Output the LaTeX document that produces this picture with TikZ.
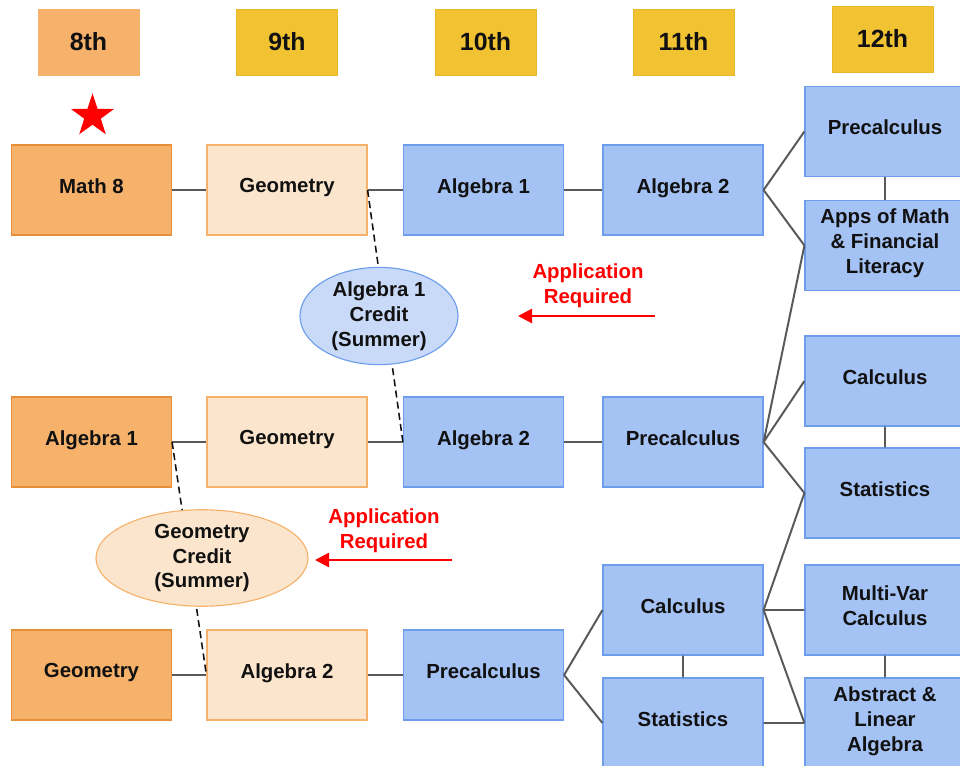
\documentclass[tikz,border=0pt]{standalone}
\usepackage{fontspec}
\setmainfont{Liberation Sans}
\usetikzlibrary{shapes.geometric,arrows.meta}
\definecolor{orangefill}{HTML}{F6B26B}
\definecolor{orangeline}{HTML}{E69138}
\definecolor{peachfill}{HTML}{FCE5CD}
\definecolor{peachline}{HTML}{F6B26B}
\definecolor{goldfill}{HTML}{F1C232}
\definecolor{goldline}{HTML}{E8B82A}
\definecolor{bluefill}{HTML}{A4C2F4}
\definecolor{blueline}{HTML}{6D9EEB}
\definecolor{paleblue}{HTML}{C9DAF8}
\definecolor{linegray}{HTML}{595959}
\definecolor{inkgray}{HTML}{111111}
\begin{document}
\begin{tikzpicture}[x=0.025cm,y=-0.025cm,
  every node/.style={font=\fontsize{14.5}{17.7}\selectfont\bfseries,text=inkgray,align=center,inner sep=0pt},
  grade/.style={draw=goldline,fill=goldfill,minimum width=2.525cm,minimum height=1.65cm,
    font=\fontsize{17.7}{20}\selectfont\bfseries},
  course/.style={draw=blueline,fill=bluefill,line width=0.8pt,minimum width=4cm,minimum height=2.25cm,text depth=6pt},
  prior/.style={course,draw=orangeline,fill=orangefill},
  early/.style={course,draw=peachline,fill=peachfill},
  credit/.style={ellipse,line width=0.8pt,draw=blueline,fill=paleblue},
  pathline/.style={draw=linegray,line width=1.4pt},
  dashline/.style={draw=inkgray,line width=1.1pt,dash pattern=on 5pt off 3pt},
  apply/.style={text=red},
  applyarrow/.style={draw=red,line width=1.8pt,-{Triangle[length=10pt,width=10pt]}}]
\clip (0,0) rectangle (960,766);
\fill[white] (0,0) rectangle (960,766);
% grade headers
\node[grade,draw=orangefill,fill=orangefill] (g8) at (88.5,42) {8th};
\node[grade] (g9) at (287,42) {9th};
\node[grade] (g10) at (485.5,42) {10th};
\node[grade] (g11) at (683.5,42) {11th};
\node[grade] (g12) at (882.5,39) {12th};
\node[star,star points=5,star point ratio=2.6,fill=red,minimum size=1.13cm] (mark8) at (92.5,116) {};
% first track
\node[prior] (math8) at (91.5,190) {Math 8};
\node[early] (geoA) at (287,190) {Geometry};
\node[course] (algOneA) at (483.5,190) {Algebra 1};
\node[course] (algTwoA) at (683,190) {Algebra 2};
\node[course] (precTwelve) at (885,131.5) {Precalculus};
\node[course] (apps) at (885,245.5) {Apps of Math\\\& Financial\\Literacy};
% second track
\node[prior] (algOneB) at (91.5,442) {Algebra 1};
\node[early] (geoB) at (287,442) {Geometry};
\node[course] (algTwoB) at (483.5,442) {Algebra 2};
\node[course] (precEleven) at (683,442) {Precalculus};
\node[course] (calcTwelve) at (885,381) {Calculus};
\node[course] (statTwelve) at (885,493) {Statistics};
% third track
\node[prior] (geoC) at (91.5,675) {Geometry};
\node[early] (algTwoC) at (287,675) {Algebra 2};
\node[course] (precTen) at (483.5,675) {Precalculus};
\node[course] (calcEleven) at (683,610) {Calculus};
\node[course] (statEleven) at (683,723) {Statistics};
\node[course] (multiVar) at (885,610) {Multi-Var\\Calculus};
\node[course] (abstract) at (885,723) {Abstract \&\\Linear\\Algebra};
% connectors
\draw[pathline] (math8.east) -- (geoA.west) (geoA.east) -- (algOneA.west) (algOneA.east) -- (algTwoA.west);
\draw[pathline] (algTwoA.east) -- (precTwelve.west) (algTwoA.east) -- (apps.west) (precTwelve) -- (apps);
\draw[pathline] (algOneB.east) -- (geoB.west) (geoB.east) -- (algTwoB.west) (algTwoB.east) -- (precEleven.west);
\draw[pathline] (precEleven.east) -- (apps.west) (precEleven.east) -- (calcTwelve.west)
  (precEleven.east) -- (statTwelve.west) (calcTwelve) -- (statTwelve);
\draw[pathline] (geoC.east) -- (algTwoC.west) (algTwoC.east) -- (precTen.west);
\draw[pathline] (precTen.east) -- (calcEleven.west) (precTen.east) -- (statEleven.west) (calcEleven) -- (statEleven);
\draw[pathline] (calcEleven.east) -- (statTwelve.west) (calcEleven.east) -- (multiVar.west)
  (calcEleven.east) -- (abstract.west) (statEleven.east) -- (abstract.west) (multiVar) -- (abstract);
\draw[dashline] (geoA.east) -- (algTwoB.west);
\draw[dashline] (algOneB.east) -- (algTwoC.west);
% summer credits
\node[credit,minimum width=3.95cm,minimum height=2.2cm] (creditAlg) at (379,316) {Algebra 1\\Credit\\(Summer)};
\node[credit,draw=peachline,fill=peachfill,minimum width=5.3cm,minimum height=2.25cm] (creditGeo) at (202,558) {Geometry\\Credit\\(Summer)};
\node[apply] (applyA) at (588,286) {Application\\Required};
\node[apply] (applyB) at (384,531) {Application\\Required};
\coordinate (arrowAfrom) at (655,316);
\coordinate (arrowAto) at (518,316);
\coordinate (arrowBfrom) at (452,560);
\coordinate (arrowBto) at (315,560);
\draw[applyarrow] (arrowAfrom) -- (arrowAto);
\draw[applyarrow] (arrowBfrom) -- (arrowBto);
\end{tikzpicture}
\end{document}
